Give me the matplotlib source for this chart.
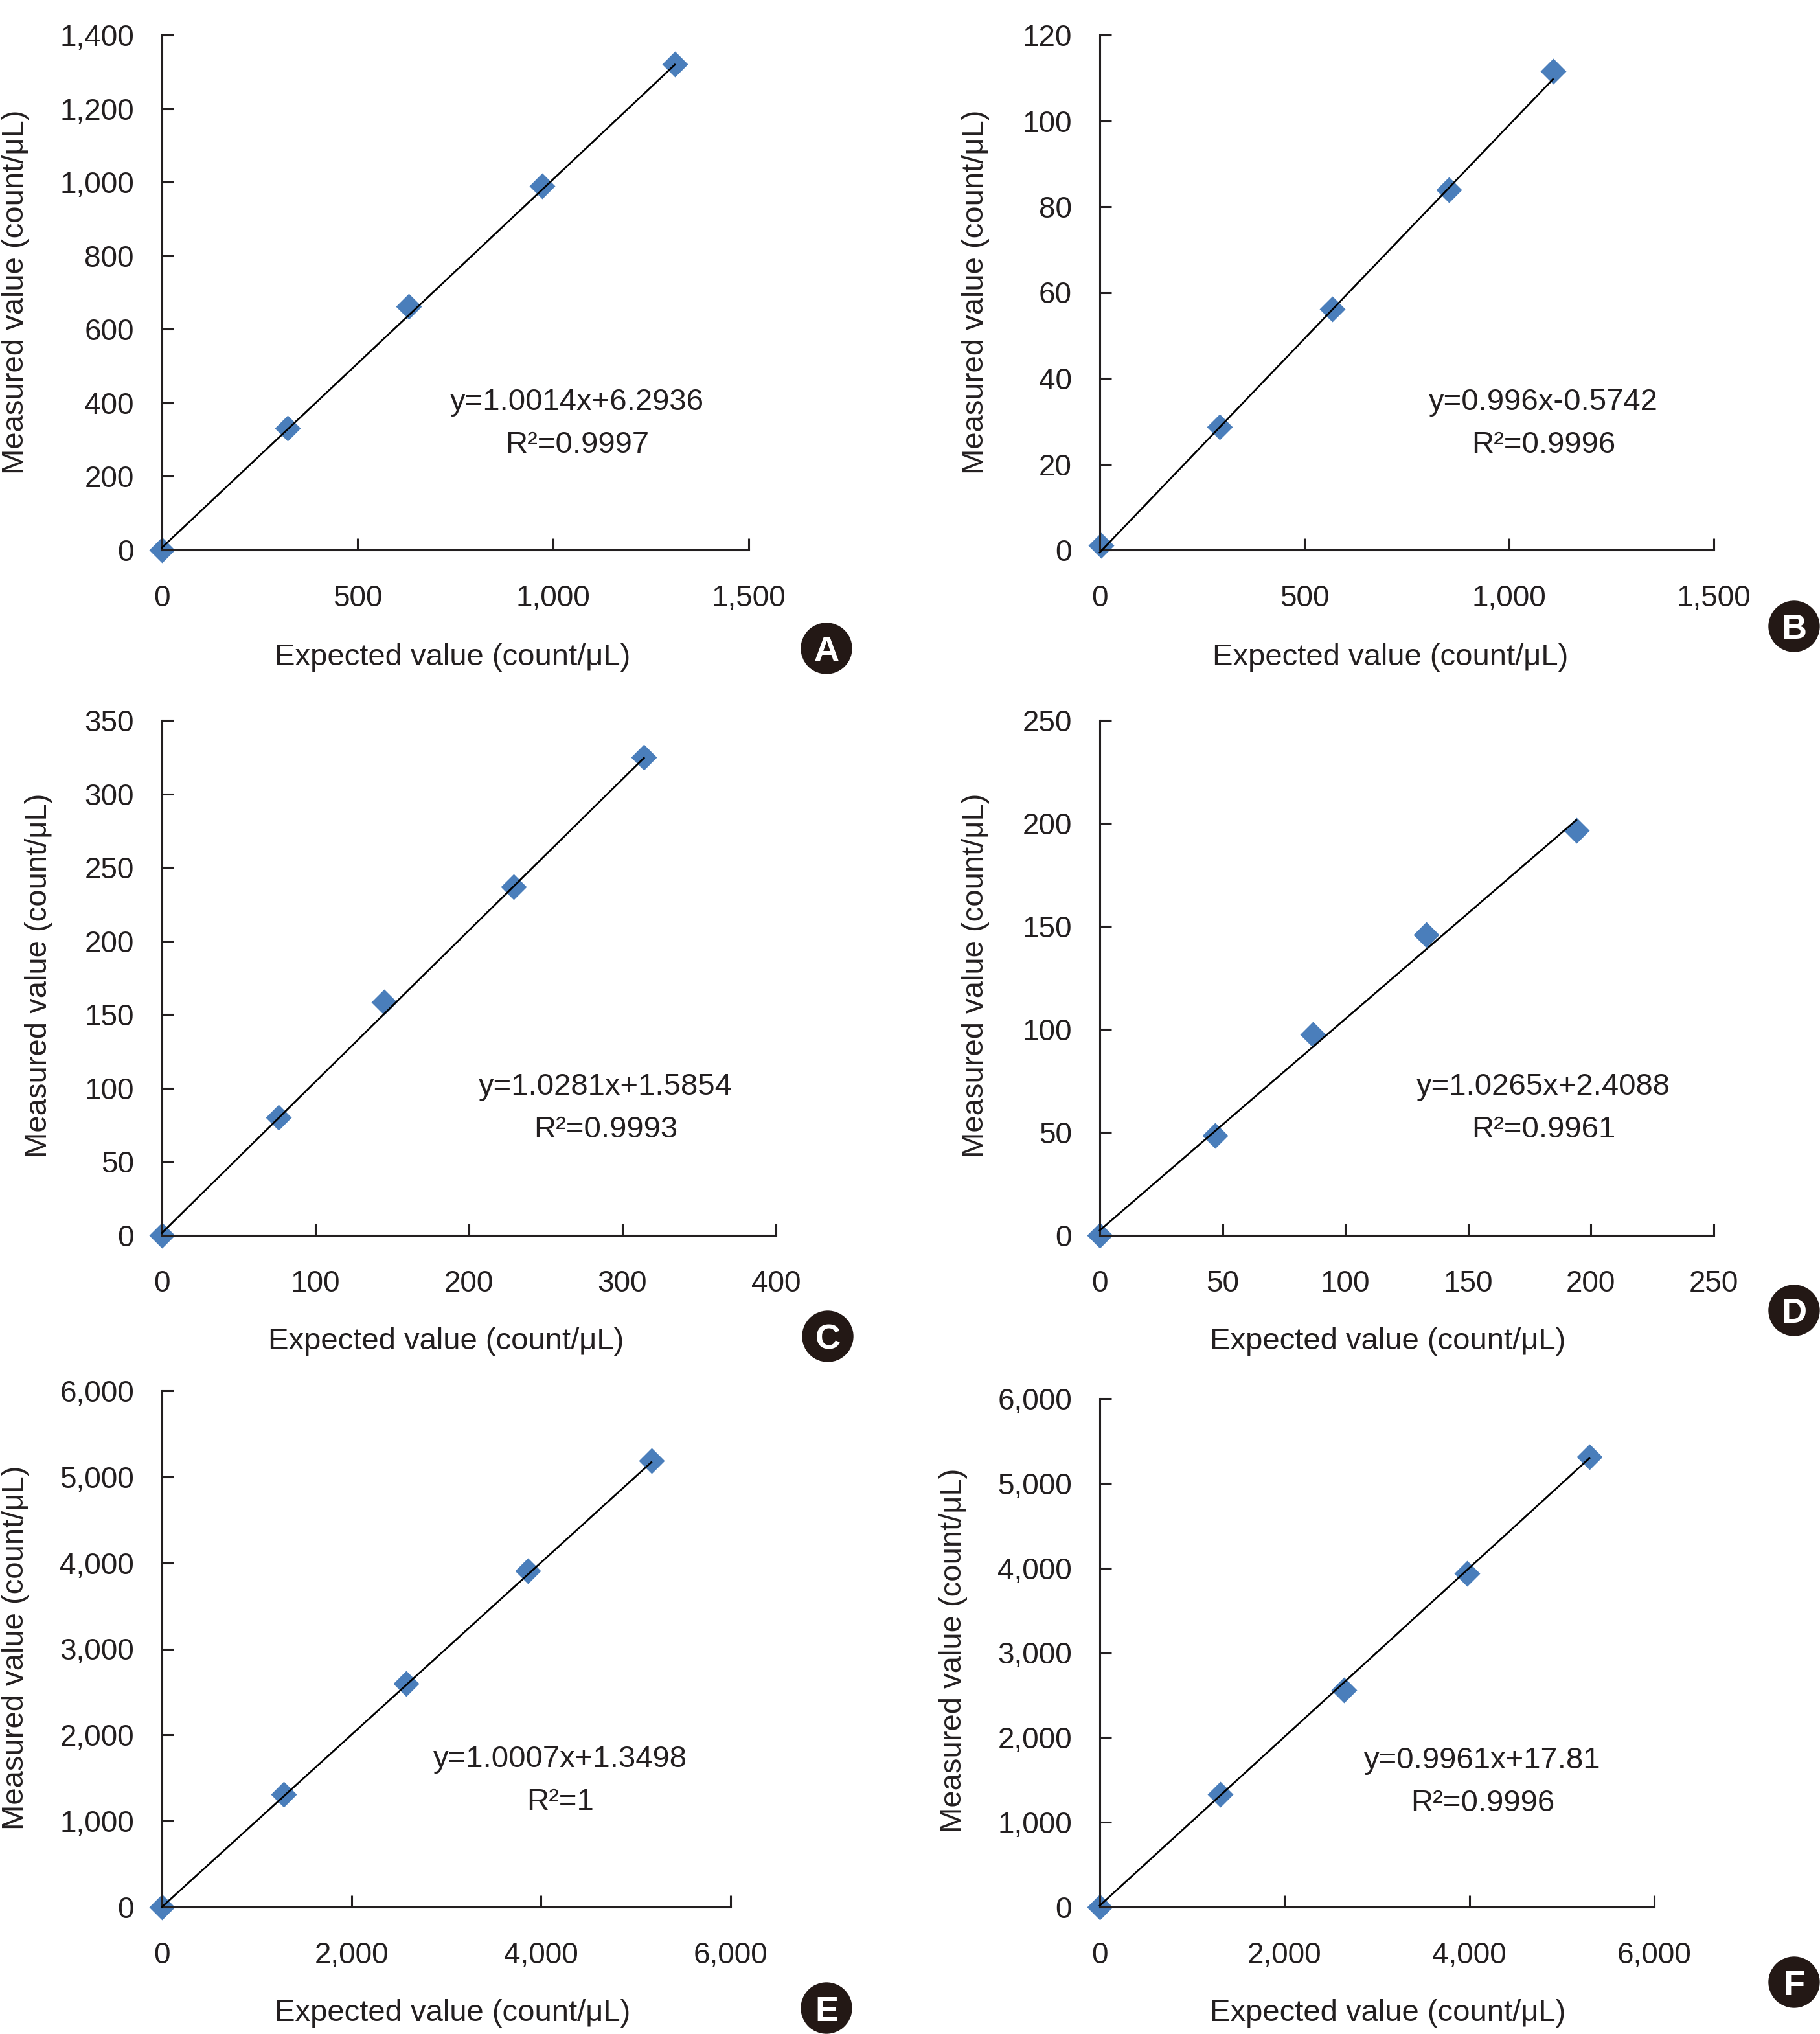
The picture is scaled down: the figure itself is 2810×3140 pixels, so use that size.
import numpy as np
import matplotlib.pyplot as plt
from matplotlib.patches import Circle

plt.rcParams['font.family'] = ['Liberation Sans', 'DejaVu Sans']

W, H = 2810, 3140
INK = '#231f20'
BLUE = '#4a7ebb'

# A
a_expected = [0, 322, 630, 972, 1311]
a_measured = [0, 331, 663, 990, 1320]
a_fit = (1.0014, 6.2936)
a_text = ['y=1.0014x+6.2936', 'R²=0.9997']
a_xticks = [0, 500, 1000, 1500]
a_xlabels = ['0', '500', '1,000', '1,500']
a_yticks = [0, 200, 400, 600, 800, 1000, 1200, 1400]
a_ylabels = ['0', '200', '400', '600', '800', '1,000', '1,200', '1,400']

# B (x axis is labelled 0-1,500 in the source, data runs 0-150)
b_expected = [0.3, 29.2, 56.8, 85.3, 110.7]
b_measured = [1.0, 28.7, 56.2, 84.0, 111.5]
b_fit = (0.996, -0.5742)
b_text = ['y=0.996x-0.5742', 'R²=0.9996']
b_xticks = [0, 50, 100, 150]
b_xlabels = ['0', '500', '1,000', '1,500']
b_yticks = [0, 20, 40, 60, 80, 100, 120]
b_ylabels = ['0', '20', '40', '60', '80', '100', '120']

# C
c_expected = [0, 76, 144.6, 229, 314]
c_measured = [0, 80, 158.7, 237, 325]
c_fit = (1.0281, 1.5854)
c_text = ['y=1.0281x+1.5854', 'R²=0.9993']
c_xticks = [0, 100, 200, 300, 400]
c_xlabels = ['0', '100', '200', '300', '400']
c_yticks = [0, 50, 100, 150, 200, 250, 300, 350]
c_ylabels = ['0', '50', '100', '150', '200', '250', '300', '350']

# D
d_expected = [0, 47, 86.7, 133, 194]
d_measured = [0, 48.5, 97.6, 146, 196.5]
d_fit = (1.0265, 2.4088)
d_text = ['y=1.0265x+2.4088', 'R²=0.9961']
d_xticks = [0, 50, 100, 150, 200, 250]
d_xlabels = ['0', '50', '100', '150', '200', '250']
d_yticks = [0, 50, 100, 150, 200, 250]
d_ylabels = ['0', '50', '100', '150', '200', '250']

# E
e_expected = [0, 1288, 2575, 3863, 5164]
e_measured = [0, 1312, 2594, 3906, 5188]
e_fit = (1.0007, 1.3498)
e_text = ['y=1.0007x+1.3498', 'R²=1']
e_xticks = [0, 2000, 4000, 6000]
e_xlabels = ['0', '2,000', '4,000', '6,000']
e_yticks = [0, 1000, 2000, 3000, 4000, 5000, 6000]
e_ylabels = ['0', '1,000', '2,000', '3,000', '4,000', '5,000', '6,000']

# F
f_expected = [0, 1307, 2642, 3977, 5298]
f_measured = [0, 1332, 2557, 3935, 5314]
f_fit = (0.9961, 17.81)
f_text = ['y=0.9961x+17.81', 'R²=0.9996']
f_xticks = [0, 2000, 4000, 6000]
f_xlabels = ['0', '2,000', '4,000', '6,000']
f_yticks = [0, 1000, 2000, 3000, 4000, 5000, 6000]
f_ylabels = ['0', '1,000', '2,000', '3,000', '4,000', '5,000', '6,000']

xtitle = 'Expected value (count/\u03bcL)'
ytitle = 'Measured value (count/\u03bcL)'

fig = plt.figure(figsize=(W / 100, H / 100), dpi=100)


def ftext(x, y, s, **kw):
    fig.text(x / W, 1 - y / H, s, color=INK, **kw)


def panel(box, xs, ys, fit, eq, xt, xl, yt, yl, eqxy, xlab, ylab, badge, letter):
    x0, x1, yt0, yb0 = box
    ax = fig.add_axes([x0 / W, 1 - yb0 / H, (x1 - x0) / W, (yb0 - yt0) / H])
    ax.set_xlim(xt[0], xt[-1])
    ax.set_ylim(yt[0], yt[-1])
    lx = np.array([0, xs[-1]])
    ax.plot(lx, fit[0] * lx + fit[1], color='black', lw=2.0, zorder=3, clip_on=False)
    ax.plot(xs, ys, 'D', color=BLUE, ms=20, mec='none', zorder=2, clip_on=False)
    ax.set_xticks(xt)
    ax.set_xticklabels(xl)
    ax.set_yticks(yt)
    ax.set_yticklabels(yl)
    for s in ['top', 'right']:
        ax.spines[s].set_visible(False)
    for s in ['left', 'bottom']:
        ax.spines[s].set_linewidth(2.2)
        ax.spines[s].set_color(INK)
    ax.tick_params(axis='both', direction='in', length=13, width=2.2, color=INK,
                   labelsize=33, labelcolor=INK)
    ax.tick_params(axis='x', pad=38)
    ax.tick_params(axis='y', pad=31)
    ftext(eqxy[0], eqxy[1], eq[0], fontsize=34, ha='center', va='center')
    ftext(eqxy[0], eqxy[1] + 66, eq[1], fontsize=34, ha='center', va='center')
    ftext(xlab[0], xlab[1], xtitle, fontsize=34, ha='center', va='center')
    ftext(ylab[0], ylab[1], ytitle, fontsize=34, ha='center', va='center', rotation=90)
    fig.add_artist(Circle((badge[0] / 100, (H - badge[1]) / 100), 0.39,
                          transform=fig.dpi_scale_trans, color='#231815'))
    fig.text(badge[0] / W, 1 - badge[1] / H, letter, color='white', fontsize=39,
             fontweight='bold', ha='center', va='center_baseline')


panel((250, 1156, 54, 849), a_expected, a_measured, a_fit, a_text, a_xticks, a_xlabels,
      a_yticks, a_ylabels, (891, 621), (699, 1015), (24, 451), (1276, 1001), 'A')
panel((1698, 2646, 54, 849), b_expected, b_measured, b_fit, b_text, b_xticks, b_xlabels,
      b_yticks, b_ylabels, (2383, 621), (2147, 1015), (1506, 451), (2770, 967), 'B')
panel((250, 1198, 1112, 1907), c_expected, c_measured, c_fit, c_text, c_xticks, c_xlabels,
      c_yticks, c_ylabels, (935, 1678), (689, 2071), (60, 1506), (1278, 2063), 'C')
panel((1698, 2646, 1112, 1907), d_expected, d_measured, d_fit, d_text, d_xticks, d_xlabels,
      d_yticks, d_ylabels, (2383, 1678), (2143, 2071), (1506, 1506), (2770, 2023), 'D')
panel((250, 1128, 2147, 2944), e_expected, e_measured, e_fit, e_text, e_xticks, e_xlabels,
      e_yticks, e_ylabels, (865, 2716), (699, 3108), (24, 2544), (1276, 3100), 'E')
panel((1698, 2554, 2159, 2944), f_expected, f_measured, f_fit, f_text, f_xticks, f_xlabels,
      f_yticks, f_ylabels, (2289, 2718), (2143, 3108), (1472, 2548), (2770, 3060), 'F')

fig.savefig('out.png', dpi=100)
